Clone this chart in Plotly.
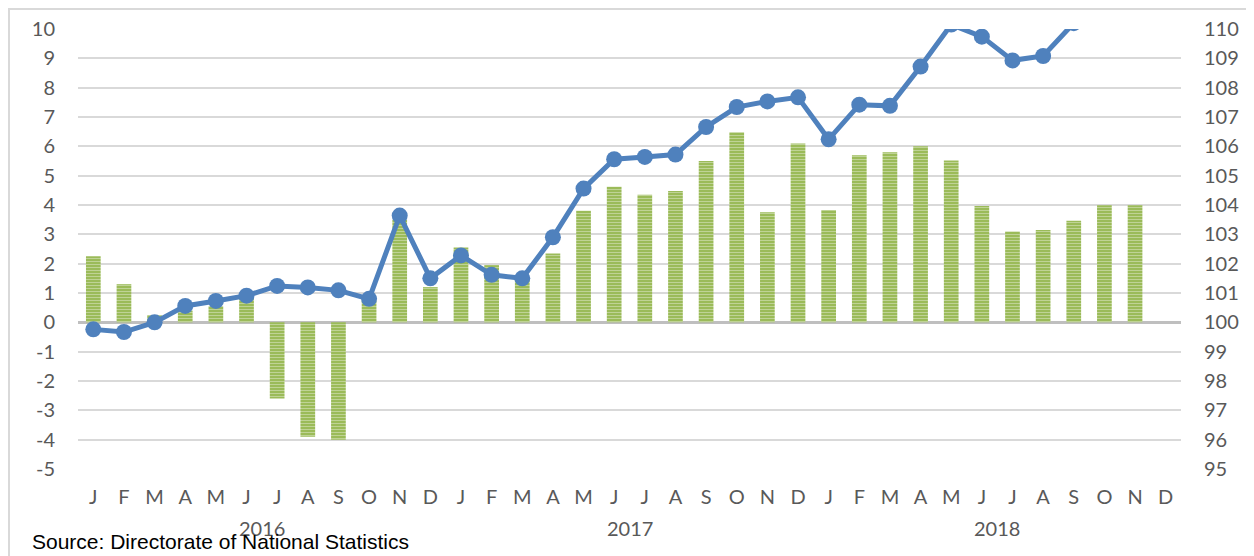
"""Monthly change (bars) and index level (line), 2016-2018."""
import plotly.graph_objects as go

months = ["J", "F", "M", "A", "M", "J", "J", "A", "S", "O", "N", "D"]
years = ["2016", "2017", "2018"]

# bars, left axis (%)
change = [
    2.25, 1.3, 0.25, 0.4, 0.55, 0.85, -2.6, -3.9, -4.0, 0.75, 3.5, 1.2,
    2.55, 1.95, 1.45, 2.35, 3.8, 4.62, 4.35, 4.48, 5.5, 6.48, 3.75, 6.1,
    3.83, 5.7, 5.8, 6.0, 5.52, 3.97, 3.1, 3.15, 3.46, 3.99, 3.99, None,
]
# line, right axis (index)
index_level = [
    99.76, 99.67, 100.0, 100.56, 100.73, 100.91, 101.24, 101.19, 101.09, 100.8, 103.64, 101.5,
    102.28, 101.62, 101.5, 102.9, 104.56, 105.56, 105.64, 105.72, 106.66, 107.34, 107.53, 107.67,
    106.24, 107.42, 107.38, 108.72, 110.15, 109.74, 108.93, 109.08, 110.2, None, None, None,
]
left_ticks = list(range(-5, 11))
right_ticks = list(range(95, 111))

x = list(range(len(months) * len(years)))
tick_text = months * len(years)

GREEN = "#9BBB59"
BLUE = "#4F81BD"
GRAY = "#595959"

# the page body adds 8px around the figure, so the figure is 8px smaller
W, H = 1246, 548
PL, PT, PW, PH = 70, 21, 1103, 440

fig = go.Figure()
fig.add_trace(go.Bar(
    x=x, y=change, width=0.48,
    marker=dict(color=GREEN, line=dict(width=0),
                pattern=dict(shape="-", fgcolor="#E4ECD2", bgcolor=GREEN,
                             size=3, solidity=0.35)),
    yaxis="y",
))
fig.add_trace(go.Scatter(
    x=x, y=index_level, mode="lines+markers", yaxis="y2",
    line=dict(color=BLUE, width=5),
    marker=dict(color=BLUE, size=16),
    connectgaps=False,
))

fig.update_layout(
    width=W, height=H,
    margin=dict(l=PL, r=W - PL - PW, t=PT, b=H - PT - PH),
    plot_bgcolor="white", paper_bgcolor="white",
    showlegend=False,
    font=dict(family="Lato, Open Sans, sans-serif", size=20, color=GRAY),
    xaxis=dict(
        range=[-0.5, 35.5], tickvals=x, ticktext=tick_text,
        showgrid=False, zeroline=False, ticks="", showline=False,
        tickfont=dict(size=20, color=GRAY), automargin=False, ticklabelstandoff=14,
    ),
    yaxis=dict(
        range=[-5, 10], tickvals=left_ticks, ticktext=[str(v) for v in left_ticks],
        showgrid=True, gridcolor="#D9D9D9", gridwidth=1.5,
        zeroline=True, zerolinecolor="#BFBFBF", zerolinewidth=3,
        ticks="", tickfont=dict(size=20, color=GRAY), ticklabelstandoff=22,
        automargin=False,
    ),
    yaxis2=dict(
        range=[95, 110], tickvals=right_ticks, overlaying="y", side="right",
        showgrid=False, zeroline=False, ticks="",
        tickfont=dict(size=20, color=GRAY), ticklabelstandoff=22,
        automargin=False,
    ),
)

# year labels under the month letters
for i, yr in enumerate(years):
    fig.add_annotation(
        x=i * 12 + 5.5, y=0, xref="x", yref="paper", yshift=-59,
        text=yr, showarrow=False, yanchor="middle",
        font=dict(size=20, color=GRAY),
    )

fig.add_annotation(
    x=(22 - PL) / PW, y=0, xref="paper", yref="paper",
    xanchor="left", yanchor="middle", yshift=-72, showarrow=False,
    text="Source: Directorate of National Statistics",
    font=dict(family="Liberation Sans, Arial, sans-serif", size=21, color="black"),
)

# chart border
fig.add_shape(
    type="rect", xref="paper", yref="paper",
    x0=(1 - PL) / PW, x1=1.2, y0=-0.5, y1=1 + (PT - 1) / PH,
    line=dict(color="#D9D9D9", width=2), layer="below",
)

fig.write_html("out.html")
